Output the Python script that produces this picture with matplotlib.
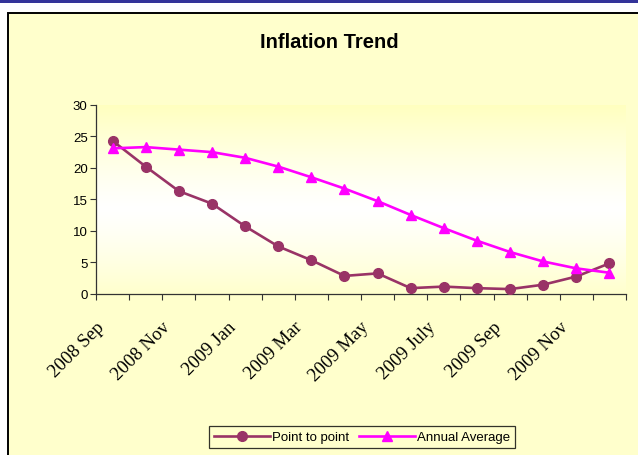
import numpy as np
import matplotlib
matplotlib.use("Agg")
import matplotlib.pyplot as plt
from matplotlib.patches import Rectangle
from matplotlib.lines import Line2D

# ── Data ─────────────────────────────────────────────────────────────────────
months = ["2008 Sep", "2008 Oct", "2008 Nov", "2008 Dec", "2009 Jan", "2009 Feb",
          "2009 Mar", "2009 Apr", "2009 May", "2009 Jun", "2009 July", "2009 Aug",
          "2009 Sep", "2009 Oct", "2009 Nov", "2009 Dec"]
point_to_point = [24.3, 20.2, 16.3, 14.3, 10.7, 7.5, 5.3, 2.8,
                  3.2, 0.85, 1.1, 0.85, 0.7, 1.4, 2.7, 4.8]
annual_average = [23.1, 23.3, 22.9, 22.5, 21.6, 20.2, 18.5, 16.7,
                  14.7, 12.5, 10.4, 8.4, 6.6, 5.1, 4.0, 3.3]
yticks = [0, 5, 10, 15, 20, 25, 30]

PLUM = "#993366"
MAGENTA = "#FF00FF"
CHART_BG = "#FFFFCC"

fig = plt.figure(figsize=(6.38, 4.56), dpi=100)
fig.patch.set_facecolor("white")

W, H = 638, 456

def fx(px):
    return px / W

def fy(py):
    return 1 - py / H

# ── Page decoration: navy bar and chart area box ─────────────────────────────
fig.add_artist(Rectangle((0, fy(3.5)), 1, 3.5 / H, transform=fig.transFigure,
                         facecolor="#333399", edgecolor="none", zorder=0))
fig.add_artist(Rectangle((fx(8), -0.1), 1.0, fy(14) + 0.1, transform=fig.transFigure,
                         facecolor=CHART_BG, edgecolor="black", lw=1.4, zorder=0))

# ── Plot area ────────────────────────────────────────────────────────────────
ax = fig.add_axes([fx(96), fy(294.5), fx(626) - fx(96), fy(106) - fy(294.5)])
ax.set_facecolor("none")

x = np.arange(len(months))
ax.set_xlim(-0.5, len(months) - 0.5)
ax.set_ylim(0, 30)

# vertical yellow-white-yellow gradient behind the plot
t = np.linspace(0, 1, 256)
g = np.abs(t - 0.45) / 0.55
g = np.clip(g, 0, 1) ** 1.2
rgb = np.ones((256, 1, 3))
rgb[:, 0, 2] = 1 - 0.25 * g
ax.imshow(rgb, extent=(-0.5, len(months) - 0.5, 0, 30), aspect="auto",
          origin="lower", zorder=0)

ax.plot(x, point_to_point, color=PLUM, lw=1.9, marker="o", ms=7,
        markeredgecolor=PLUM, zorder=3, label="Point to point")
ax.plot(x, annual_average, color=MAGENTA, lw=1.9, marker="^", ms=7.5,
        markeredgecolor=MAGENTA, zorder=3, label="Annual Average")

for s in ["top", "right"]:
    ax.spines[s].set_visible(False)
for s in ["left", "bottom"]:
    ax.spines[s].set_color("#333333")
    ax.spines[s].set_linewidth(0.9)

ax.set_yticks(yticks)
ax.tick_params(axis="y", direction="out", length=4, width=0.8, color="#333333",
               labelsize=9.5, pad=2)
for lab in ax.get_yticklabels():
    lab.set_fontfamily("Liberation Sans")

# category boundaries as tick marks, labels at every second category
ax.set_xticks(np.arange(-0.5, len(months), 1.0))
ax.set_xticklabels([])
ax.tick_params(axis="x", direction="out", length=4, width=0.8, color="#333333")
for i in range(0, len(months), 2):
    ax.annotate(months[i], xy=(i, 0), xycoords=("data", "axes fraction"),
                xytext=(-8, -22), textcoords="offset points",
                rotation=45, ha="right", va="center", rotation_mode="anchor",
                fontsize=13.5, family="Liberation Serif")

fig.text(fx(329), fy(42), "Inflation Trend", ha="center", va="center",
         fontsize=14.5, fontweight="bold", family="Liberation Sans")

handles = [
    Line2D([], [], color=PLUM, lw=1.9, marker="o", ms=7, label="Point to point"),
    Line2D([], [], color=MAGENTA, lw=1.9, marker="^", ms=7.5, label="Annual Average"),
]
leg = fig.legend(handles=handles, loc="center", ncol=2,
                 bbox_to_anchor=(fx(362), fy(438)),
                 prop={"family": "Liberation Sans", "size": 9.5},
                 frameon=True, fancybox=False, handlelength=4.2,
                 handletextpad=0.15, columnspacing=0.8, borderpad=0.4)
leg.get_frame().set_edgecolor("black")
leg.get_frame().set_facecolor(CHART_BG)
leg.get_frame().set_linewidth(0.9)

fig.savefig("out.png", dpi=100)
